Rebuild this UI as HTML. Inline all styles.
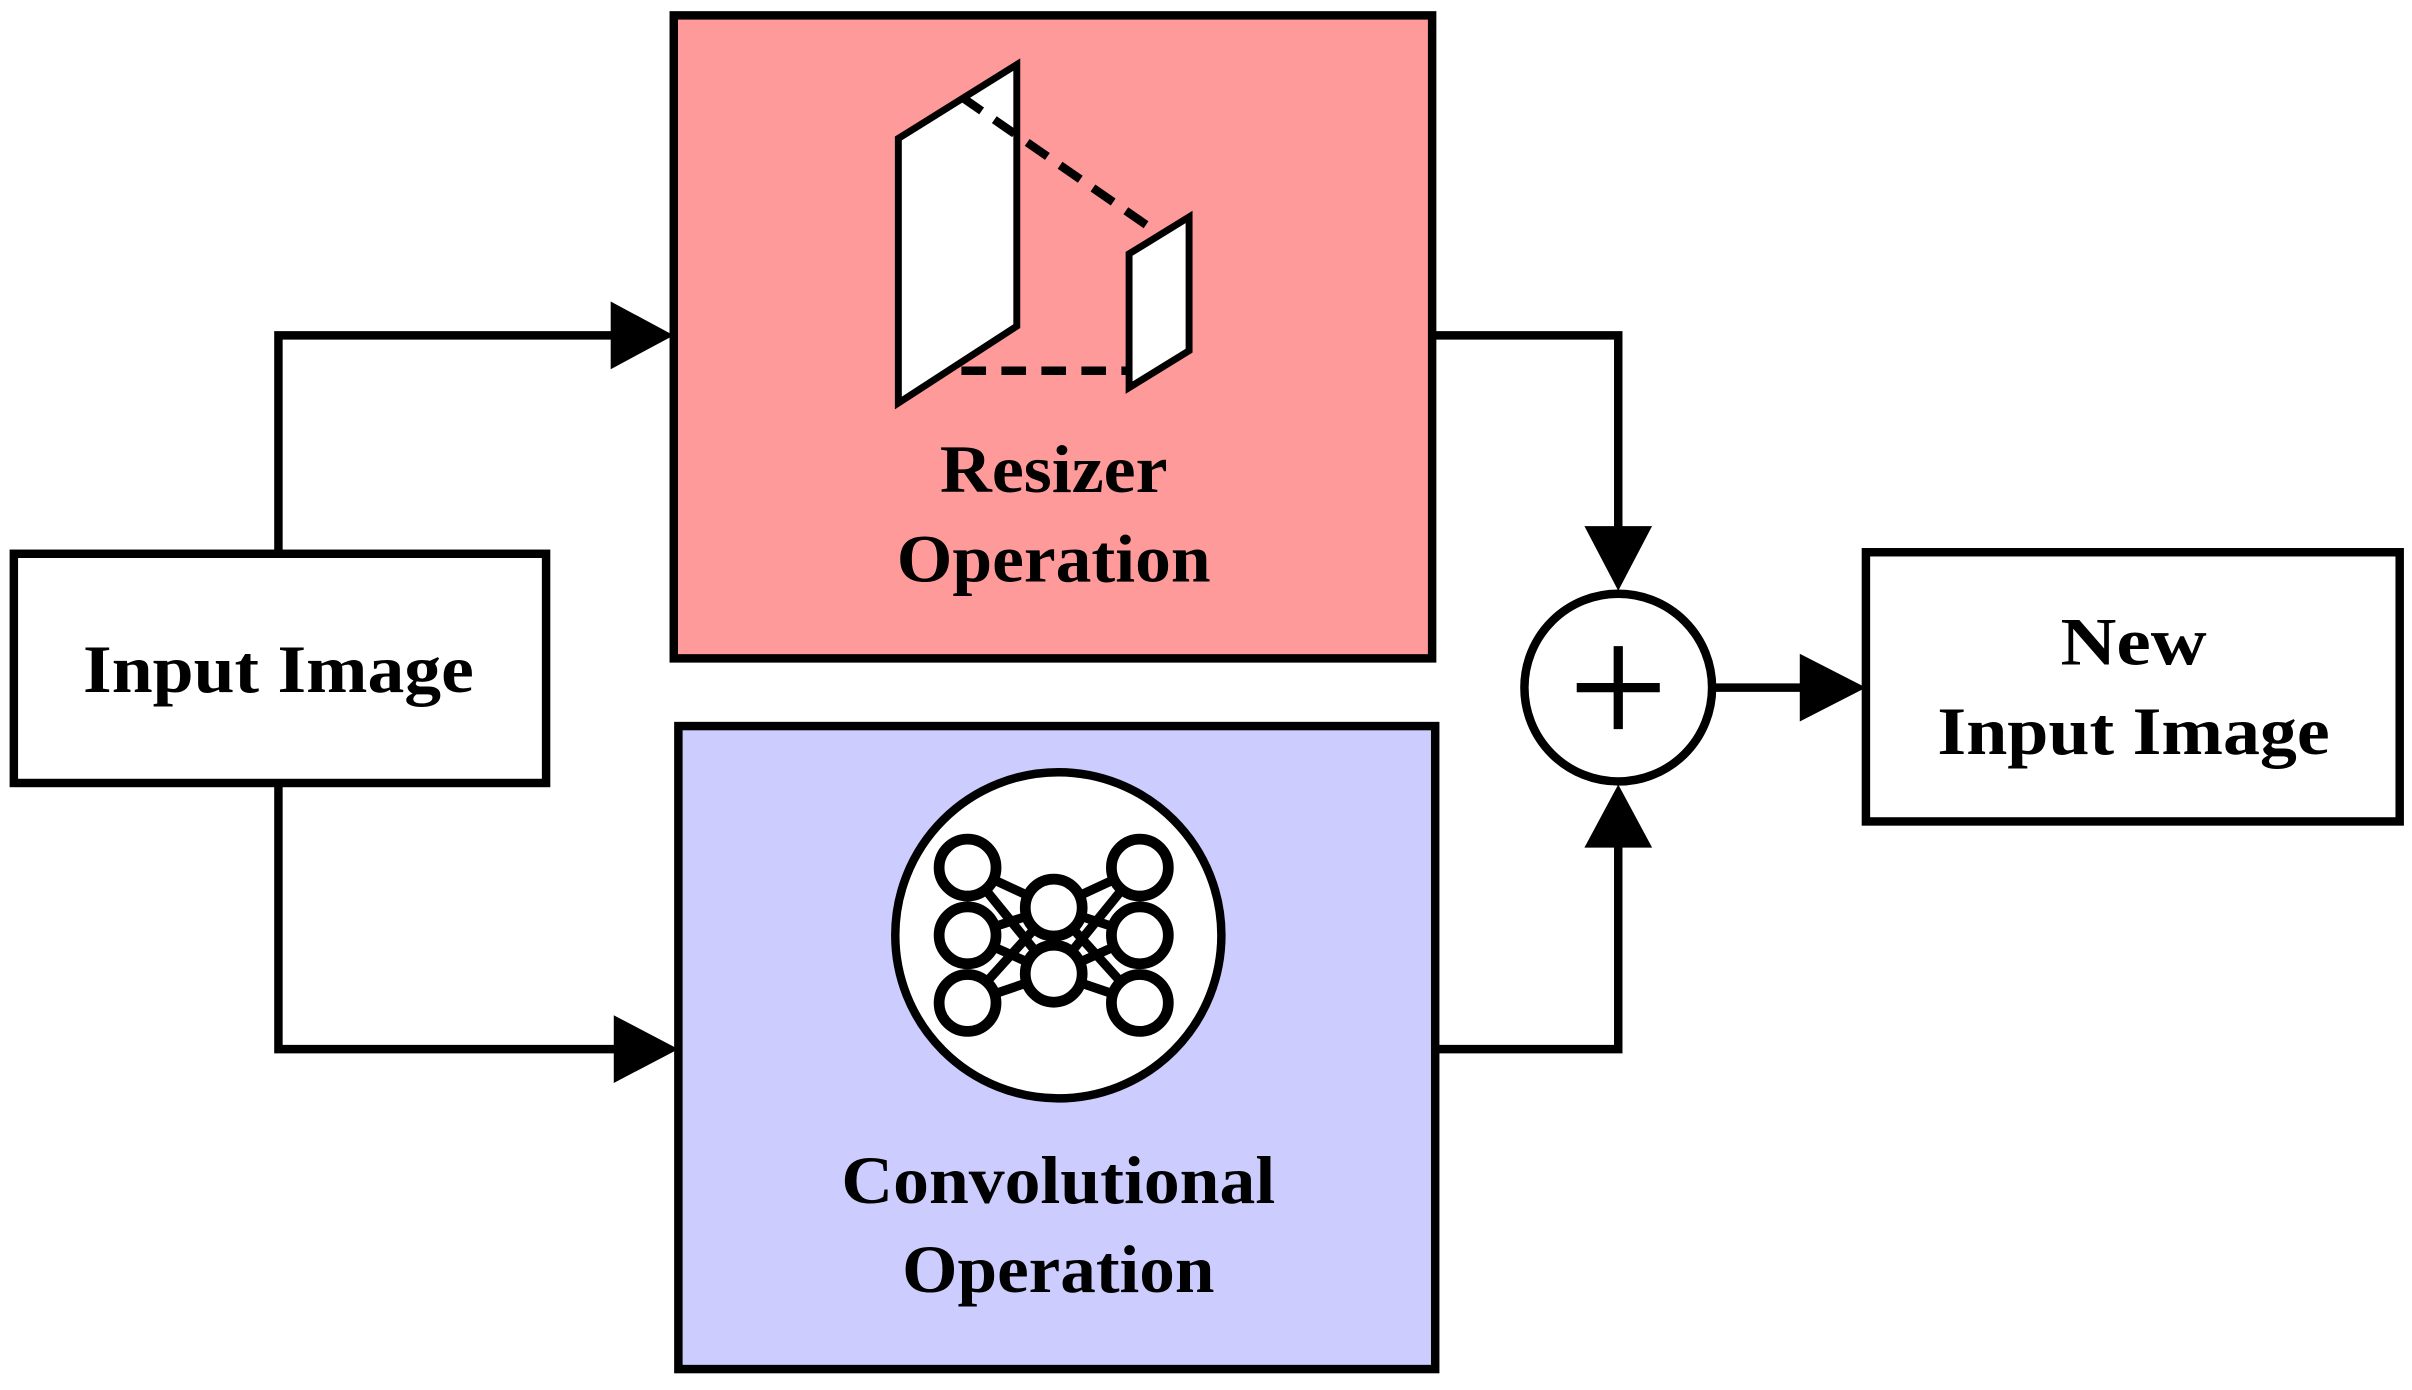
<!DOCTYPE html>
<html><head><style>html,body{margin:0;padding:0;background:#fff}svg{display:block}</style></head><body>
<svg width="2412" height="1390" viewBox="0 0 1568 903.6" preserveAspectRatio="none" xmlns="http://www.w3.org/2000/svg">
<g font-family="'Liberation Serif',serif" font-weight="bold" font-size="44" text-anchor="middle" fill="#000">
<g stroke="#000" stroke-width="5.5" fill="none">
<polyline points="181,360 181,218 400,218"/>
<polyline points="181,509 181,682 402,682"/>
<polyline points="931,218 1052,218 1052,345"/>
<polyline points="933,682 1052,682 1052,548"/>
<line x1="1113" y1="447" x2="1172" y2="447"/>
</g>
<polygon points="397,196 438,218 397,240"/>
<polygon points="399,660 441,682 399,704"/>
<polygon points="1030,342 1074,342 1052,384"/>
<polygon points="1030,551 1074,551 1052,510"/>
<polygon points="1170,425 1213,447 1170,469"/>
<rect x="9" y="360" width="346" height="149" fill="#fff" stroke="#000" stroke-width="5.5"/>
<rect x="438" y="10" width="493" height="418" fill="#fe9a9a" stroke="#000" stroke-width="5.5"/>
<rect x="441" y="472" width="492" height="418" fill="#ccccfe" stroke="#000" stroke-width="5.5"/>
<rect x="1213" y="359" width="347" height="175" fill="#fff" stroke="#000" stroke-width="5.5"/>
<circle cx="1052" cy="447" r="61" fill="#fff" stroke="#000" stroke-width="5.5"/>
<line x1="1052" y1="420" x2="1052" y2="474" stroke="#000" stroke-width="6"/>
<line x1="1025" y1="447" x2="1079" y2="447" stroke="#000" stroke-width="6"/>
<polygon points="584,90 661,42 661,212 584,262" fill="#fff" stroke="#000" stroke-width="4.5"/>
<polygon points="734,165 773,141 773,228 734,252" fill="#fff" stroke="#000" stroke-width="4.5"/>
<g stroke="#000" stroke-width="5.5" stroke-dasharray="16,10" fill="none">
<line x1="625" y1="63" x2="755" y2="153"/>
<line x1="625" y1="241" x2="734" y2="241"/>
</g>
<circle cx="688" cy="608" r="106" fill="#fff" stroke="#000" stroke-width="5.5"/>
<g stroke="#000" stroke-width="6">
<line x1="629" y1="564" x2="685" y2="590"/><line x1="629" y1="564" x2="685" y2="633"/>
<line x1="629" y1="608" x2="685" y2="590"/><line x1="629" y1="608" x2="685" y2="633"/>
<line x1="629" y1="652" x2="685" y2="590"/><line x1="629" y1="652" x2="685" y2="633"/>
<line x1="741" y1="564" x2="685" y2="590"/><line x1="741" y1="564" x2="685" y2="633"/>
<line x1="741" y1="608" x2="685" y2="590"/><line x1="741" y1="608" x2="685" y2="633"/>
<line x1="741" y1="652" x2="685" y2="590"/><line x1="741" y1="652" x2="685" y2="633"/>
</g>
<g fill="#fff" stroke="#000" stroke-width="7">
<circle cx="629" cy="564" r="18.5"/><circle cx="629" cy="608" r="18.5"/><circle cx="629" cy="652" r="18.5"/>
<circle cx="685" cy="590" r="18.5"/><circle cx="685" cy="633" r="18.5"/>
<circle cx="741" cy="564" r="18.5"/><circle cx="741" cy="608" r="18.5"/><circle cx="741" cy="652" r="18.5"/>
</g>
<text x="181" y="450" textLength="254" lengthAdjust="spacingAndGlyphs">Input Image</text>
<text x="685" y="320" textLength="148" lengthAdjust="spacingAndGlyphs">Resizer</text>
<text x="685" y="378" textLength="204" lengthAdjust="spacingAndGlyphs">Operation</text>
<text x="688" y="782" textLength="282" lengthAdjust="spacingAndGlyphs">Convolutional</text>
<text x="688" y="840" textLength="203" lengthAdjust="spacingAndGlyphs">Operation</text>
<text x="1387" y="432" textLength="95" lengthAdjust="spacingAndGlyphs">New</text>
<text x="1387" y="490" textLength="255" lengthAdjust="spacingAndGlyphs">Input Image</text>
</g>
</svg>
</body></html>
